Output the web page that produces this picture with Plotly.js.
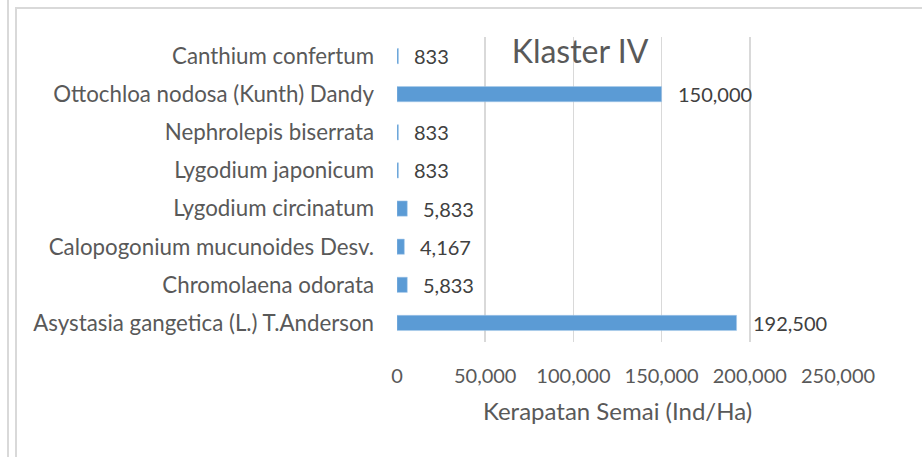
<!DOCTYPE html>
<html>
<head>
<meta charset="utf-8">
<script src="https://cdn.plot.ly/plotly-3.0.1.min.js"></script>
<style>
html,body{margin:0;padding:0;background:#fff;}
#wrap{position:relative;width:922px;height:457px;overflow:hidden;}
#chart{position:absolute;left:0;top:0;width:922px;height:457px;}
.ln{position:absolute;background:#D9D9D9;pointer-events:none;}
</style>
</head>
<body>
<div id="wrap">
<div id="chart"></div>
<div class="ln" style="left:7px;top:0;width:1.5px;height:457px;"></div>
<div class="ln" style="left:15px;top:7px;width:1.5px;height:450px;"></div>
<div class="ln" style="left:15px;top:7px;width:907px;height:1.5px;"></div>
</div>
<script>
const categories = [
  "Asystasia gangetica (L.) T.Anderson",
  "Chromolaena odorata",
  "Calopogonium mucunoides Desv.",
  "Lygodium circinatum",
  "Lygodium japonicum",
  "Nephrolepis biserrata",
  "Ottochloa nodosa (Kunth) Dandy",
  "Canthium confertum"
];
const values = [192500, 5833, 4167, 5833, 833, 833, 150000, 833];
const xTicks = [0, 50000, 100000, 150000, 200000, 250000];
const xTickLabels = ["0", "50,000", "100,000", "150,000", "200,000", "250,000"];

const fontFam = "Lato, 'Open Sans', sans-serif";
const trace = {
  type: 'bar',
  orientation: 'h',
  y: categories,
  x: values,
  marker: {color: '#5B9BD5', line: {color: '#A9CBEA', width: 0.5}},
  hoverinfo: 'x+y'
};
const annotations = values.map((v, i) => ({
  x: v, y: categories[i], xref: 'x', yref: 'y',
  text: v.toLocaleString('en-US'),
  showarrow: false, xanchor: 'left', yanchor: 'middle', xshift: 14,
  font: {family: fontFam, size: 20, color: '#404040'}
}));
const layout = {
  width: 922, height: 457,
  margin: {l: 397, r: 84, t: 37, b: 115},
  paper_bgcolor: '#ffffff', plot_bgcolor: '#ffffff',
  showlegend: false,
  bargap: 0.6,
  title: {
    text: 'Klaster IV',
    font: {family: fontFam, size: 32, color: '#595959'},
    xref: 'paper', x: 0.415, xanchor: 'center',
    yref: 'container', y: 0.887, yanchor: 'middle'
  },
  xaxis: {
    range: [0, 250000],
    tickvals: xTicks, ticktext: xTickLabels,
    showgrid: true, gridcolor: '#D9D9D9', gridwidth: 1.5,
    zeroline: false, showline: false,
    ticks: '', ticklabelstandoff: 20,
    tickfont: {family: fontFam, size: 20, color: '#595959'},
    title: {text: 'Kerapatan Semai (Ind/Ha)', standoff: 17,
            font: {family: fontFam, size: 24, color: '#595959'}},
    fixedrange: true
  },
  yaxis: {
    type: 'category',
    categoryorder: 'array', categoryarray: categories,
    showgrid: false, zeroline: false,
    showline: false, ticks: '', ticklabelstandoff: 22,
    tickfont: {family: fontFam, size: 22.3, color: '#595959'},
    fixedrange: true
  },
  annotations: annotations
};
Plotly.newPlot('chart', [trace], layout, {displayModeBar: false, staticPlot: true});
</script>
</body>
</html>
